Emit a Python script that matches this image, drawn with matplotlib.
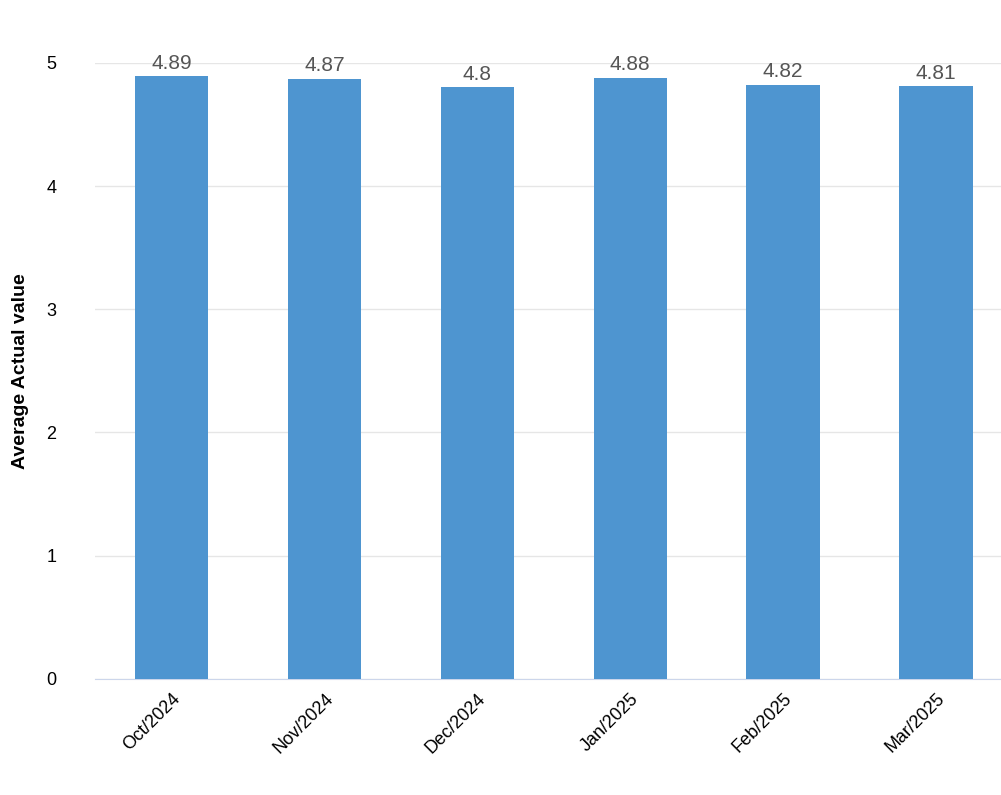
import matplotlib.pyplot as plt

months = ["Oct/2024", "Nov/2024", "Dec/2024", "Jan/2025", "Feb/2025", "Mar/2025"]
values = [4.89, 4.87, 4.8, 4.88, 4.82, 4.81]
value_labels = ["4.89", "4.87", "4.8", "4.88", "4.82", "4.81"]

plt.rcParams['font.family'] = ['Liberation Sans', 'DejaVu Sans']
fig = plt.figure(figsize=(10.01, 7.95), dpi=100)
ax = fig.add_axes([0.095, 0.146, 0.905, 0.775])

x = range(len(months))
ax.bar(x, values, width=0.48, color="#4E95D0", zorder=3)
for xi, v, lab in zip(x, values, value_labels):
    ax.text(xi, v + 0.03, lab, ha="center", va="bottom", fontsize=15,
            color="#555555", zorder=4)

ax.set_xlim(-0.5, 5.425)
ax.set_ylim(0, 5)
ax.set_yticks([0, 1, 2, 3, 4, 5])
ax.grid(axis="y", color="#e6e6e6", linewidth=1, zorder=0)
ax.set_xticks(list(x))
ax.set_xticklabels(months, rotation=45, ha="right", rotation_mode="anchor",
                   fontsize=13)
ax.tick_params(axis="y", labelsize=13, length=0, pad=28)
ax.tick_params(axis="x", length=0, pad=8)
for s in ["top", "right", "left"]:
    ax.spines[s].set_visible(False)
ax.spines["bottom"].set_color("#ccd6eb")
ax.set_ylabel("Average Actual value", fontsize=14, fontweight="bold", labelpad=12)

plt.savefig("out.png", dpi=100)
